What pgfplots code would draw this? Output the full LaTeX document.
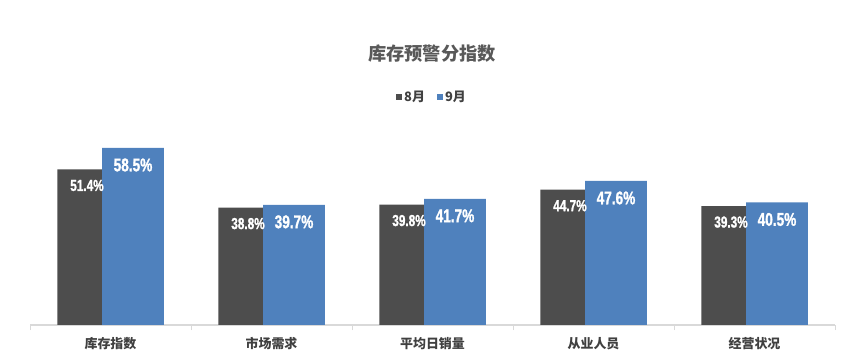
\documentclass[border=0pt]{standalone}
\usepackage{fontspec}
\usepackage{pgfplots}
\pgfplotsset{compat=1.18}
\setmainfont{Noto Sans CJK SC}
\newfontfamily\narrow[FakeStretch=0.74,FakeBold=1.2]{Liberation Sans}
\definecolor{darkbar}{RGB}{77,77,77}
\definecolor{bluebar}{RGB}{79,129,189}
\definecolor{axisgray}{RGB}{217,217,217}
\definecolor{txtgray}{RGB}{89,89,89}
\definecolor{lblgray}{RGB}{64,64,64}
\begin{document}
\begin{tikzpicture}
\path[use as bounding box] (0bp,0bp) rectangle (865bp,360bp);
\begin{axis}[
  at={(30bp,35bp)}, anchor=south west,
  scale only axis, width=805bp, height=195bp,
  xmin=-0.5, xmax=4.5, ymin=0, ymax=64.44,
  axis x line*=bottom, axis y line=none,
  x axis line style={-, axisgray, line width=1.2bp},
  xtick={0,1,2,3,4},
  xticklabels={库存指数,市场需求,平均日销量,从业人员,经营状况},
  major tick length=0pt,
  minor xtick={-0.5,0.5,1.5,2.5,3.5,4.5},
  minor tick length=5bp,
  tick align=outside,
  minor tick style={axisgray, line width=1bp},
  xticklabel style={anchor=center, yshift=-19bp, font=\bfseries\fontsize{13}{13}\selectfont, text=lblgray},
  title={库存预警分指数},
  title style={at={(0.4994,1.359)}, anchor=center, font=\bfseries\fontsize{18.3}{18.3}\selectfont, text=txtgray},
  legend style={at={(0.4994,1.169)}, anchor=center, draw=none, fill=none,
    font=\bfseries\fontsize{13}{13}\selectfont, text=lblgray,
    /tikz/every even column/.append style={column sep=10bp}},
  legend columns=2,
  legend image code/.code={\fill[#1] (0bp,-3bp) rectangle (6bp,3bp);},
  clip=false,
]
\addplot[ybar, fill=darkbar, draw=none, bar width=0.28, bar shift=-0.19,
  point meta=y,
  nodes near coords={\pgfmathprintnumber[fixed,fixed zerofill,precision=1,assume math mode=true]{\pgfplotspointmeta}\%},
  nodes near coords style={anchor=center, yshift=-16bp, xshift=-23.5bp, text=white, font=\narrow\bfseries\fontsize{16}{16}\selectfont}]
  coordinates {(0,51.4) (1,38.8) (2,39.8) (3,44.7) (4,39.3)};
\addlegendentry{8月}
\addplot[ybar, fill=bluebar, draw=none, bar width=0.383, bar shift=0.14,
  point meta=y,
  nodes near coords={\pgfmathprintnumber[fixed,fixed zerofill,precision=1,assume math mode=true]{\pgfplotspointmeta}\%},
  nodes near coords style={anchor=center, yshift=-17bp, xshift=22.5bp, text=white, font=\narrow\bfseries\fontsize{18.5}{18.5}\selectfont}]
  coordinates {(0,58.5) (1,39.7) (2,41.7) (3,47.6) (4,40.5)};
\addlegendentry{9月}
\end{axis}
\end{tikzpicture}
\end{document}
